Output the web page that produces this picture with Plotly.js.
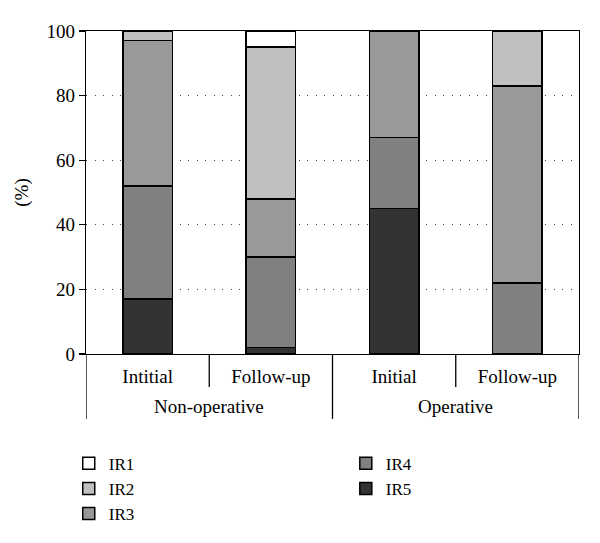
<!DOCTYPE html>
<html>
<head>
<meta charset="utf-8">
<script src="https://cdn.plot.ly/plotly-3.0.1.min.js"></script>
<style>body{margin:0;background:#fff}#chart{width:600px;height:543px}</style>
</head>
<body>
<div id="chart"></div>
<script>
// Categories
var stages = ["Intitial", "Follow-up", "Initial", "Follow-up"];
var groups = ["Non-operative", "Operative"];
var groupSpan = [[0, 1], [2, 3]];
var yTicks = [0, 20, 40, 60, 80, 100];

// Series values (%), bottom to top
var IR5 = [17, 2, 45, 0];
var IR4 = [35, 28, 22, 22];
var IR3 = [45, 18, 33, 61];
var IR2 = [3, 47, 0, 17];
var IR1 = [0, 5, 0, 0];

var seriesNames = ["IR5", "IR4", "IR3", "IR2", "IR1"];
var seriesVals = [IR5, IR4, IR3, IR2, IR1];
var seriesColors = ["#333333", "#808080", "#999999", "#c0c0c0", "#ffffff"];
var seriesLegend = ["legend2", "legend2", "legend", "legend", "legend"];

var xIdx = stages.map(function (_, i) { return i; });
var FONT = "Liberation Serif, Times New Roman, serif";
var FS = 19;

var traces = seriesNames.map(function (n, k) {
  return {
    type: "bar",
    name: n,
    x: xIdx,
    y: seriesVals[k],
    marker: { color: seriesColors[k], line: { color: "#000", width: 1.5 } },
    legend: seriesLegend[k],
    hoverinfo: "name+y"
  };
});

var shapes = [];
// separators under the axis: inner (between stages) and outer (group edges)
for (var b = 0; b <= stages.length; b++) {
  var pos = b - 0.5;
  var isOuter = (b === 0 || b === stages.length || b === 2);
  shapes.push({
    type: "line", xref: "x", yref: "paper",
    x0: pos, x1: pos, y0: 0, y1: isOuter ? -0.201 : -0.102,
    line: { color: "#000", width: 1.3 }
  });
}

var annotations = groups.map(function (g, i) {
  return {
    text: g, xref: "x", yref: "paper",
    x: (groupSpan[i][0] + groupSpan[i][1]) / 2, y: -0.164,
    yanchor: "middle", showarrow: false,
    font: { family: FONT, size: FS, color: "#000" }
  };
});

var legFont = { family: FONT, size: 17, color: "#000" };

var layout = {
  width: 600, height: 543,
  margin: { l: 86, r: 21, t: 31, b: 189, autoexpand: false },
  paper_bgcolor: "#fff", plot_bgcolor: "#fff",
  barmode: "stack",
  bargap: 0.6,
  font: { family: FONT, size: FS, color: "#000" },
  xaxis: {
    range: [-0.5, 3.5],
    tickvals: xIdx, ticktext: stages,
    ticks: "", showgrid: false, zeroline: false,
    showline: true, linecolor: "#000", linewidth: 1.3, mirror: true,
    tickfont: { family: FONT, size: FS, color: "#000" },
    tickangle: 0,
    ticklabelstandoff: 5,
    automargin: false,
    fixedrange: true
  },
  yaxis: {
    range: [0, 100],
    tickvals: yTicks,
    ticks: "outside", ticklen: 6, tickcolor: "#000", tickwidth: 1.3,
    showline: true, linecolor: "#000", linewidth: 1.3, mirror: true,
    showgrid: true, gridcolor: "#444", gridwidth: 1.3, griddash: "1.3px,7.2px",
    zeroline: false,
    tickfont: { family: FONT, size: FS, color: "#000" },
    title: { text: "(%)", font: { family: FONT, size: FS, color: "#000" }, standoff: 12 },
    automargin: false,
    fixedrange: true
  },
  legend: {
    x: -0.035, y: -0.284, xanchor: "left", yanchor: "top",
    orientation: "v", traceorder: "reversed",
    font: legFont,
    itemwidth: 30, tracegroupgap: 0, bgcolor: "rgba(0,0,0,0)"
  },
  legend2: {
    x: 0.527, y: -0.284, xanchor: "left", yanchor: "top",
    orientation: "v", traceorder: "reversed",
    font: legFont,
    itemwidth: 30, tracegroupgap: 0, bgcolor: "rgba(0,0,0,0)"
  },
  shapes: shapes,
  annotations: annotations,
  showlegend: true
};

Plotly.newPlot("chart", traces, layout, { displayModeBar: false, staticPlot: true });
</script>
</body>
</html>
